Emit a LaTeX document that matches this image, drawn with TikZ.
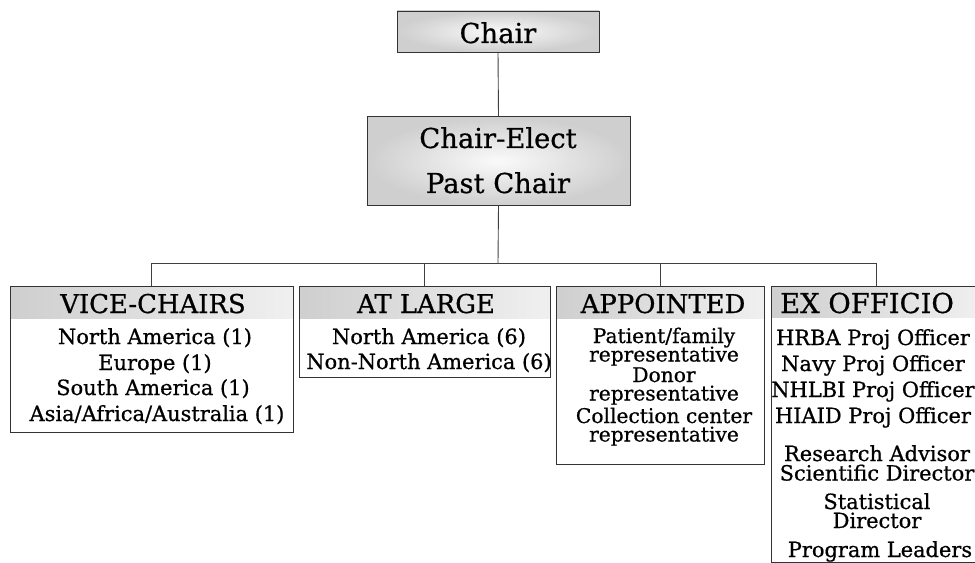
\documentclass[tikz,border=0pt]{standalone}
\usepackage{fontspec}
\setmainfont[FakeBold=0.7]{DejaVu Serif}
% two centred lines set close together; the node's baseline is the first line's
\newcommand\pairlines[3]{\vtop{\baselineskip=#3\lineskiplimit=-100pt\lineskip=0pt
  \halign{\hfil##\hfil\cr#1\cr#2\cr}}}
\begin{document}
\begin{tikzpicture}[x=1bp,y=-1bp,
  line width=0.9bp,
  every node/.style={inner sep=0pt, outer sep=0pt},
  frame/.style={draw=black!80, fill=white},
  topbox/.style={draw=black!80, inner color=black!2, outer color=black!19},
  band/.style={left color=black!19, right color=black!6},
  link/.style={draw=black!75},
  head/.style={anchor=base, font=\fontsize{26}{30}\selectfont},
  bighead/.style={anchor=base, font=\fontsize{27.5}{30}\selectfont},
  body/.style={anchor=base, font=\fontsize{21}{24}\selectfont},
  smallbody/.style={anchor=base, font=\fontsize{20.3}{24}\selectfont}]

\clip (0,0) rectangle (975,563);

% top of the chart
\node[topbox, minimum width=202bp, minimum height=41bp] (chair) at (498,31.5) {};
\node[bighead] (chairtxt) at (498,43) {Chair};
\node[topbox, minimum width=263bp, minimum height=89bp] (elect) at (498.5,161) {};
\node[bighead] (electtxt) at (498,148) {Chair-Elect};
\node[bighead] (pasttxt) at (498,193) {Past Chair};

% the four groups
\node[frame, minimum width=283bp, minimum height=146bp] (vc) at (151.5,359) {};
\node[frame, minimum width=251bp, minimum height=91bp]  (al) at (424.5,331.5) {};
\node[frame, minimum width=208bp, minimum height=178bp] (ap) at (660,375) {};
\node[frame, minimum width=210bp, minimum height=276bp] (ex) at (876,424) {};

% shaded title bands
\foreach \b in {vc,al,ap,ex}
  \shade[band] ([xshift=0.5bp,yshift=-0.5bp]\b.north west) rectangle ([xshift=-0.5bp,yshift=-32bp]\b.north east);
\foreach \b in {vc,al,ap,ex}
  \draw[draw=black!80] (\b.north west) rectangle (\b.south east);

% connectors
\coordinate (bus) at (498,263);
\draw[link] (chair.south) -- (elect.north);
\draw[link] (elect.south) -- (bus);
\draw[link] (bus) -| (vc.north);
\draw[link] (bus) -| (al.north);
\draw[link] (bus) -| (ap.north);
\draw[link] (bus) -| (ex.north);

% group titles
\node[head] (vch) at (153,313) {VICE-CHAIRS};
\node[head] (alh) at (426,313) {AT LARGE};
\node[head] (aph) at (663,313) {APPOINTED};
\node[head, font=\fontsize{27.5}{30}\selectfont] (exh) at (867,313) {EX OFFICIO};

% vice-chairs
\node[body] (vc1) at (155,344) {North America (1)};
\node[body] (vc2) at (155,370) {Europe (1)};
\node[body] (vc3) at (153,395) {South America (1)};
\node[body] (vc4) at (157,421) {Asia/Africa/Australia (1)};

% at large
\node[body] (al1) at (429,344) {North America (6)};
\node[body] (al2) at (429,369) {Non-North America (6)};

% appointed
\node[smallbody] (ap1) at (664,343) {\pairlines{Patient/family}{representative}{18.5bp}};
\node[smallbody] (ap2) at (664,382) {\pairlines{Donor}{representative}{18.5bp}};
\node[smallbody] (ap3) at (664,423) {\pairlines{Collection center}{representative}{18.5bp}};

% ex officio
\node[body] (ex1) at (873,345) {HRBA Proj Officer};
\node[body] (ex2) at (873,371) {Navy Proj Officer};
\node[body] (ex3) at (873,397) {NHLBI Proj Officer};
\node[body] (ex4) at (873,423) {HIAID Proj Officer};
\node[body] (ex5) at (877,461) {\pairlines{Research Advisor}{Scientific Director}{19.5bp}};
\node[body] (ex6) at (877,509) {\pairlines{Statistical}{Director}{19bp}};
\node[body] (ex7) at (880,557) {Program Leaders};
\end{tikzpicture}
\end{document}
